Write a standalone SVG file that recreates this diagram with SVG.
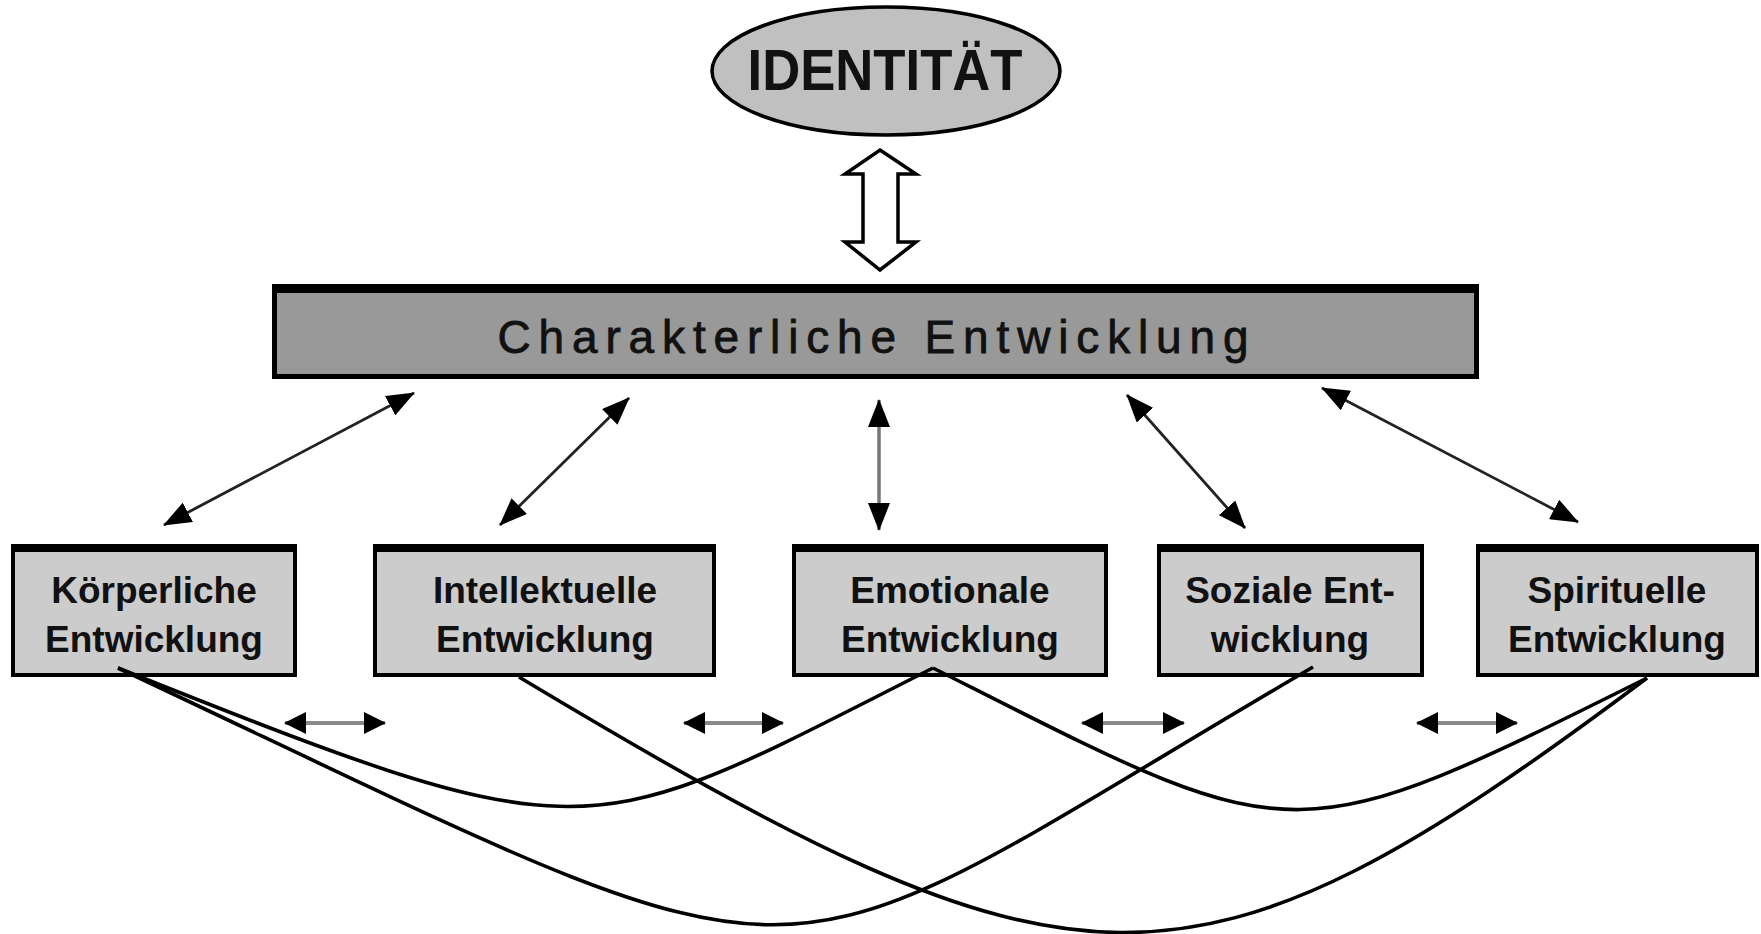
<svg xmlns="http://www.w3.org/2000/svg" width="1761" height="934" viewBox="0 0 1761 934">
<style>
.bg{fill:#fff}
.box{fill:#cccccc;stroke:#000;stroke-width:4}
.topb{fill:#000}
.lbl{font-family:"Liberation Sans",Arial,sans-serif;font-weight:bold;font-size:37px;fill:#111;text-anchor:middle}
.arr{stroke:#222;stroke-width:2.8;fill:none}
.arrv{stroke:#777;stroke-width:3.5;fill:none}
.harr{stroke:#888;stroke-width:4;fill:none}
.curve{stroke:#000;stroke-width:3.6;fill:none}
</style>
<defs>
<marker id="ah" viewBox="0 0 28 22" refX="27" refY="11" markerWidth="28" markerHeight="22" markerUnits="userSpaceOnUse" orient="auto-start-reverse"><path d="M0,0 L28,11 L0,22 z" fill="#000"/></marker>
<marker id="ahs" viewBox="0 0 22 22" refX="21" refY="11" markerWidth="22" markerHeight="22" markerUnits="userSpaceOnUse" orient="auto-start-reverse"><path d="M0,0 L22,11 L0,22 z" fill="#000"/></marker>
</defs>
<rect class="bg" x="0" y="0" width="1761" height="934"/>

<g id="identitaet">
<ellipse cx="886" cy="71" rx="174" ry="64" fill="#c0c0c0" stroke="#000" stroke-width="3.5"/>
<text x="885" y="90" font-family="'Liberation Sans',Arial,sans-serif" font-weight="bold" font-size="58" fill="#111" text-anchor="middle" textLength="275" lengthAdjust="spacingAndGlyphs">IDENTITÄT</text>
</g>

<g id="charakter">
<rect x="272" y="284" width="1207" height="95" fill="#000"/>
<rect x="277" y="293" width="1197" height="81" fill="#999999"/>
<text x="873" y="353" font-family="'Liberation Sans',Arial,sans-serif" font-size="46" fill="#111" stroke="#111" stroke-width="0.8" text-anchor="middle" textLength="751" lengthAdjust="spacing">Charakterliche Entwicklung</text>
</g>

<g id="koerperlich">
<rect class="box" x="13" y="546" width="282" height="129"/>
<rect class="topb" x="11" y="544" width="286" height="8"/>
<text class="lbl" x="154" y="603">Körperliche</text>
<text class="lbl" x="154" y="652">Entwicklung</text>
</g>

<g id="intellektuell">
<rect class="box" x="375" y="546" width="339" height="129"/>
<rect class="topb" x="373" y="544" width="343" height="8"/>
<text class="lbl" x="545" y="603">Intellektuelle</text>
<text class="lbl" x="545" y="652">Entwicklung</text>
</g>

<g id="emotional">
<rect class="box" x="794" y="546" width="312" height="129"/>
<rect class="topb" x="792" y="544" width="316" height="8"/>
<text class="lbl" x="950" y="603">Emotionale</text>
<text class="lbl" x="950" y="652">Entwicklung</text>
</g>

<g id="sozial">
<rect class="box" x="1159" y="546" width="263" height="129"/>
<rect class="topb" x="1157" y="544" width="267" height="8"/>
<text class="lbl" x="1290" y="603">Soziale Ent-</text>
<text class="lbl" x="1290" y="652">wicklung</text>
</g>

<g id="spirituell">
<rect class="box" x="1478" y="546" width="279" height="129"/>
<rect class="topb" x="1476" y="544" width="283" height="8"/>
<text class="lbl" x="1617" y="603">Spirituelle</text>
<text class="lbl" x="1617" y="652">Entwicklung</text>
</g>

<g id="connectors">
<path d="M880,150 L916,174 L898,174 L898,242 L916,242 L880,270 L845,242 L863,242 L863,174 L845,174 Z" fill="#fff" stroke="#000" stroke-width="3.5" stroke-linejoin="miter"/>
<line class="arr" x1="414" y1="393" x2="164" y2="525" marker-start="url(#ah)" marker-end="url(#ah)"/>
<line class="arr" x1="629" y1="398" x2="500" y2="525" marker-start="url(#ah)" marker-end="url(#ah)"/>
<line class="arrv" x1="879" y1="400" x2="879" y2="530" marker-start="url(#ah)" marker-end="url(#ah)"/>
<line class="arr" x1="1127" y1="395" x2="1245" y2="528" marker-start="url(#ah)" marker-end="url(#ah)"/>
<line class="arr" x1="1322" y1="388" x2="1578" y2="522" marker-start="url(#ah)" marker-end="url(#ah)"/>
<line class="harr" x1="285" y1="723" x2="385" y2="723" marker-start="url(#ahs)" marker-end="url(#ahs)"/>
<line class="harr" x1="684" y1="723" x2="783" y2="723" marker-start="url(#ahs)" marker-end="url(#ahs)"/>
<line class="harr" x1="1082" y1="723" x2="1184" y2="723" marker-start="url(#ahs)" marker-end="url(#ahs)"/>
<line class="harr" x1="1417" y1="723" x2="1517" y2="723" marker-start="url(#ahs)" marker-end="url(#ahs)"/>
<path class="curve" d="M118,668 C598,860 583,845 933,668"/>
<path class="curve" d="M118,668 C858,1016 735,1005 1313,667"/>
<path class="curve" d="M519,677 C1078,1012 1187,1023 1647,678"/>
<path class="curve" d="M933,668 C1296,851 1284,859 1647,678"/>
</g>
</svg>
